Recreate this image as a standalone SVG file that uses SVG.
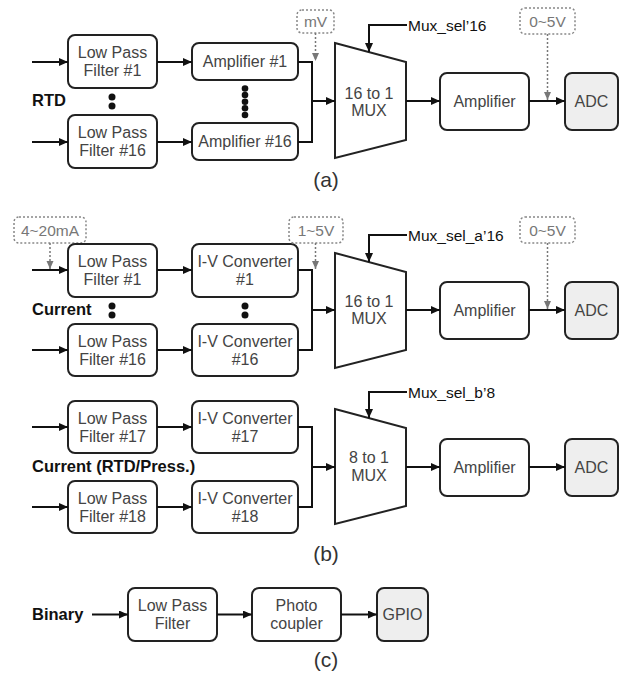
<svg xmlns="http://www.w3.org/2000/svg" width="624" height="675" viewBox="0 0 624 675">
  <defs>
    <marker id="arr" markerUnits="userSpaceOnUse" markerWidth="10" markerHeight="10" refX="9" refY="4" orient="auto">
      <path d="M0,0 L9,4 L0,8 z" fill="#111"/>
    </marker>
    <marker id="darr" markerUnits="userSpaceOnUse" markerWidth="10" markerHeight="10" refX="8" refY="3.5" orient="auto">
      <path d="M0,0 L8,3.5 L0,7 z" fill="#777"/>
    </marker>
    <style>
      .box { fill: #fff; stroke: #222; stroke-width: 2; }
      .out { fill: #eeeeee; stroke: #222; stroke-width: 2; }
      .mux { fill: #fff; stroke: #222; stroke-width: 2; stroke-linejoin: miter; }
      .tag { fill: #fff; stroke: #888; stroke-width: 1.5; stroke-dasharray: 2 2; }
      .t { font-family: "Liberation Sans", Arial, sans-serif; font-size: 16px; fill: #444; text-anchor: middle; }
      .tg { font-family: "Liberation Sans", Arial, sans-serif; font-size: 15.5px; fill: #777; text-anchor: middle; }
      .sel { font-family: "Liberation Sans", Arial, sans-serif; font-size: 15.5px; fill: #111; }
      .lab { font-family: "Liberation Sans", Arial, sans-serif; font-size: 16.5px; font-weight: bold; fill: #111; }
      .cap { font-family: "Liberation Sans", Arial, sans-serif; font-size: 21px; fill: #333; text-anchor: middle; }
      .w { fill: none; stroke: #111; stroke-width: 2; }
      .a { fill: none; stroke: #111; stroke-width: 2; marker-end: url(#arr); }
      .d { fill: none; stroke: #777; stroke-width: 1.5; stroke-dasharray: 2 2; marker-end: url(#darr); }
      .dot { fill: #111; }
    </style>
  </defs>

  <!-- ===== (a) RTD chain ===== -->
  <text class="lab" x="32" y="106">RTD</text>
  <g id="lpf_a1"><rect class="box" x="68" y="35" width="89" height="53" rx="7"/>
    <text class="t" x="112.5" y="58">Low Pass</text><text class="t" x="112.5" y="76">Filter #1</text></g>
  <g id="lpf_a16"><rect class="box" x="68" y="115" width="89" height="53" rx="7"/>
    <text class="t" x="112.5" y="138">Low Pass</text><text class="t" x="112.5" y="156">Filter #16</text></g>
  <g id="amp_a1"><rect class="box" x="192" y="43" width="106" height="37" rx="7"/>
    <text class="t" x="245" y="67">Amplifier #1</text></g>
  <g id="amp_a16"><rect class="box" x="192" y="123" width="106" height="37" rx="7"/>
    <text class="t" x="245" y="147">Amplifier #16</text></g>
  <g id="dots_a">
    <circle class="dot" cx="112" cy="97" r="3.5"/><circle class="dot" cx="112" cy="106" r="3.5"/>
    <circle class="dot" cx="245" cy="88.5" r="3.3"/><circle class="dot" cx="245" cy="95" r="3.3"/>
    <circle class="dot" cx="245" cy="101.7" r="3.3"/><circle class="dot" cx="245" cy="108.3" r="3.3"/>
    <circle class="dot" cx="245" cy="115" r="3.3"/>
  </g>
  <g id="tag_mv"><rect class="tag" x="297" y="10" width="37" height="23" rx="5"/>
    <text class="tg" x="315.5" y="27">mV</text></g>
  <g id="mux_a"><polygon class="mux" points="335,43 406,62 406,140 335,158"/>
    <text class="t" x="369" y="98.5">16 to 1</text><text class="t" x="369" y="115.5">MUX</text></g>
  <text class="sel" x="408" y="30.5">Mux_sel’16</text>
  <g id="amp_a"><rect class="box" x="440" y="73" width="89" height="57" rx="7"/>
    <text class="t" x="484.5" y="107">Amplifier</text></g>
  <g id="tag_a05"><rect class="tag" x="520" y="8" width="55" height="26" rx="5"/>
    <text class="tg" x="547.5" y="26.5">0~5V</text></g>
  <g id="adc_a"><rect class="out" x="565" y="73" width="53" height="57" rx="7"/>
    <text class="t" x="591.5" y="107">ADC</text></g>
  <text class="cap" x="326" y="187">(a)</text>

  <!-- ===== (b) current chains ===== -->
  <g id="tag_420"><rect class="tag" x="14" y="217" width="72" height="26" rx="5"/>
    <text class="tg" x="50" y="235.5">4~20mA</text></g>
  <text class="lab" x="32" y="315">Current</text>
  <g id="lpf_b1"><rect class="box" x="68" y="244" width="89" height="53" rx="7"/>
    <text class="t" x="112.5" y="267">Low Pass</text><text class="t" x="112.5" y="285">Filter #1</text></g>
  <g id="lpf_b16"><rect class="box" x="68" y="324" width="89" height="52" rx="7"/>
    <text class="t" x="112.5" y="346.5">Low Pass</text><text class="t" x="112.5" y="364.5">Filter #16</text></g>
  <g id="iv_b1"><rect class="box" x="192" y="244" width="106" height="53" rx="7"/>
    <text class="t" x="245" y="267">I-V Converter</text><text class="t" x="245" y="285">#1</text></g>
  <g id="iv_b16"><rect class="box" x="192" y="324" width="106" height="52" rx="7"/>
    <text class="t" x="245" y="346.5">I-V Converter</text><text class="t" x="245" y="364.5">#16</text></g>
  <g id="dots_b">
    <circle class="dot" cx="112" cy="306" r="3.5"/><circle class="dot" cx="112" cy="315" r="3.5"/>
    <circle class="dot" cx="245" cy="306" r="3.5"/><circle class="dot" cx="245" cy="315" r="3.5"/>
  </g>
  <g id="tag_15"><rect class="tag" x="289" y="217" width="54" height="26" rx="5"/>
    <text class="tg" x="316" y="235.5">1~5V</text></g>
  <g id="mux_b1"><polygon class="mux" points="335,253 406,272 406,350 335,368"/>
    <text class="t" x="369" y="307">16 to 1</text><text class="t" x="369" y="324">MUX</text></g>
  <text class="sel" x="408" y="240.5">Mux_sel_a’16</text>
  <g id="amp_b1"><rect class="box" x="440" y="282" width="89" height="57" rx="7"/>
    <text class="t" x="484.5" y="316">Amplifier</text></g>
  <g id="tag_b05"><rect class="tag" x="520" y="217" width="55" height="26" rx="5"/>
    <text class="tg" x="547.5" y="235.5">0~5V</text></g>
  <g id="adc_b1"><rect class="out" x="565" y="282" width="53" height="57" rx="7"/>
    <text class="t" x="591.5" y="316">ADC</text></g>

  <text class="lab" x="32" y="471.5">Current (RTD/Press.)</text>
  <g id="lpf_b17"><rect class="box" x="68" y="401" width="89" height="52" rx="7"/>
    <text class="t" x="112.5" y="423.5">Low Pass</text><text class="t" x="112.5" y="441.5">Filter #17</text></g>
  <g id="lpf_b18"><rect class="box" x="68" y="481" width="89" height="52" rx="7"/>
    <text class="t" x="112.5" y="503.5">Low Pass</text><text class="t" x="112.5" y="521.5">Filter #18</text></g>
  <g id="iv_b17"><rect class="box" x="192" y="401" width="106" height="52" rx="7"/>
    <text class="t" x="245" y="423.5">I-V Converter</text><text class="t" x="245" y="441.5">#17</text></g>
  <g id="iv_b18"><rect class="box" x="192" y="481" width="106" height="52" rx="7"/>
    <text class="t" x="245" y="503.5">I-V Converter</text><text class="t" x="245" y="521.5">#18</text></g>
  <g id="mux_b2"><polygon class="mux" points="335,409 406,428 406,506 335,524"/>
    <text class="t" x="369" y="462.5">8 to 1</text><text class="t" x="369" y="480.5">MUX</text></g>
  <text class="sel" x="408" y="397.5">Mux_sel_b’8</text>
  <g id="amp_b2"><rect class="box" x="440" y="439" width="89" height="57" rx="7"/>
    <text class="t" x="484.5" y="473">Amplifier</text></g>
  <g id="adc_b2"><rect class="out" x="565" y="439" width="53" height="57" rx="7"/>
    <text class="t" x="591.5" y="473">ADC</text></g>
  <text class="cap" x="326" y="561">(b)</text>

  <!-- ===== (c) binary input ===== -->
  <text class="lab" x="32" y="620">Binary</text>
  <g id="lpf_c"><rect class="box" x="128" y="588" width="89" height="53" rx="7"/>
    <text class="t" x="172.5" y="611">Low Pass</text><text class="t" x="172.5" y="629">Filter</text></g>
  <g id="pc_c"><rect class="box" x="252" y="588" width="89" height="53" rx="7"/>
    <text class="t" x="296.5" y="611">Photo</text><text class="t" x="296.5" y="629">coupler</text></g>
  <g id="gpio_c"><rect class="out" x="377" y="588" width="51" height="53" rx="7"/>
    <text class="t" x="402.5" y="620">GPIO</text></g>
  <text class="cap" x="326" y="667">(c)</text>

  <!-- ===== connectors ===== -->
  <g id="connectors">
    <!-- (a) -->
    <path class="a" d="M32,62 H68"/>
    <path class="a" d="M32,142 H68"/>
    <path class="a" d="M157,62 H192"/>
    <path class="a" d="M157,142 H192"/>
    <path class="w" d="M298,62 H312 V142 H298"/>
    <path class="a" d="M312,101 H335"/>
    <path class="a" d="M406,101 H440"/>
    <path class="a" d="M529,101 H565"/>
    <path class="a" d="M407,25 H369 V52"/>
    <path class="d" d="M315.5,33 V61"/>
    <path class="d" d="M547.5,34 V100"/>
    <!-- (b) upper -->
    <path class="a" d="M32,270 H68"/>
    <path class="a" d="M32,350 H68"/>
    <path class="a" d="M157,270 H192"/>
    <path class="a" d="M157,350 H192"/>
    <path class="w" d="M298,270 H312 V350 H298"/>
    <path class="a" d="M312,310 H335"/>
    <path class="a" d="M406,310 H440"/>
    <path class="a" d="M529,310 H565"/>
    <path class="a" d="M407,235 H369 V262"/>
    <path class="d" d="M50,243 V269"/>
    <path class="d" d="M315.5,243 V269"/>
    <path class="d" d="M547.5,243 V309"/>
    <!-- (b) lower -->
    <path class="a" d="M32,427 H68"/>
    <path class="a" d="M32,507 H68"/>
    <path class="a" d="M157,427 H192"/>
    <path class="a" d="M157,507 H192"/>
    <path class="w" d="M298,427 H312 V507 H298"/>
    <path class="a" d="M312,467 H335"/>
    <path class="a" d="M406,467 H440"/>
    <path class="a" d="M529,467 H565"/>
    <path class="a" d="M407,392 H369 V418"/>
    <!-- (c) -->
    <path class="a" d="M92,614.5 H128"/>
    <path class="a" d="M217,614.5 H252"/>
    <path class="a" d="M341,614.5 H377"/>
  </g>
</svg>
